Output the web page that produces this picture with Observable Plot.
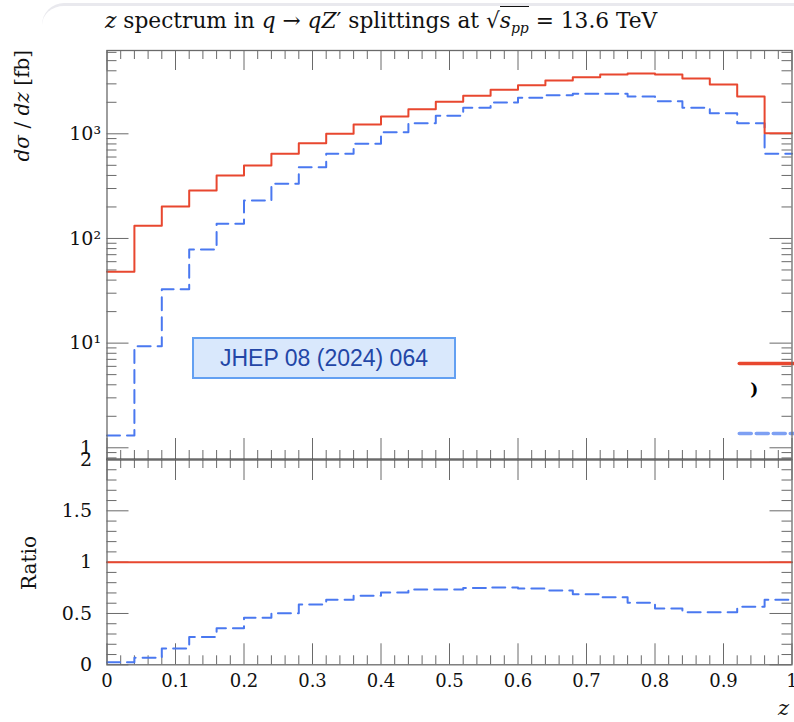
<!DOCTYPE html>
<html><head><meta charset="utf-8">
<script src="https://cdn.jsdelivr.net/npm/d3@7"></script>
<script src="https://cdn.jsdelivr.net/npm/@observablehq/plot@0.6"></script>
<style>
body{margin:0;background:#fff;}
#wrap{position:relative;width:794px;height:722px;overflow:hidden;font-family:"DejaVu Serif",serif;color:#111;}
#card{position:absolute;left:42px;top:3px;width:900px;height:60px;border-top:3px solid #e9e9ee;border-top-left-radius:22px;}
#title{position:absolute;left:105px;top:8px;font-size:21.7px;white-space:nowrap;}
.sq{border-top:1.3px solid #111;padding-top:1px;}
#ylab{position:absolute;left:22px;top:50px;transform-origin:0 0;transform:translate(-12px,0) rotate(-90deg) translate(-100%,0);font-size:20px;white-space:nowrap;}
#rlab{position:absolute;left:2px;top:563px;transform:translate(0,-50%) rotate(-90deg);font-size:20px;}
#zlab{position:absolute;left:778px;top:696px;font-size:21px;font-style:italic;}
#jhep{position:absolute;left:192px;top:337px;width:260px;height:38px;background:#d9e8fc;border:2px solid #63a0f2;box-sizing:content-box;font-family:"Liberation Sans",Arial,sans-serif;font-size:23px;color:#2346a6;text-align:center;line-height:39px;}
svg{position:absolute;left:0;}
</style></head><body><div id="wrap">
<div id="card"></div>
<div id="title"><i>z</i> spectrum in <i>q</i> → <i>qZ</i>′ splittings at √<span class="sq"><i>s<sub style="font-size:14px">pp</sub></i></span> = 13.6 TeV</div>
<div id="ylab"><i>dσ</i> / <i>dz</i> [fb]</div>
<div id="rlab">Ratio</div>
<div id="zlab">z</div>
</div>
<script>
// ---- data ----
const binLow = [0,0.04,0.08,0.12,0.16,0.20,0.24,0.28,0.32,0.36,0.40,0.44,0.48,0.52,0.56,0.60,0.64,0.68,0.72,0.76,0.80,0.84,0.88,0.92,0.96];
const binHigh = 1.0;
const sigmaRed  = [48,132,202,287,400,498,644,813,1000,1227,1462,1718,2023,2307,2630,2911,3228,3473,3683,3765,3683,3374,2958,2270,1013];
const sigmaBlue = [1.31,9.36,32.8,78.5,138,231,333,480,644,802,1036,1263,1486,1771,1991,2209,2340,2411,2411,2270,2047,1771,1574,1263,644];
const ratioRed  = [1,1,1,1,1,1,1,1,1,1,1,1,1,1,1,1,1,1,1,1,1,1,1,1,1];
const ratioBlue = [0.025,0.068,0.16,0.27,0.357,0.458,0.503,0.588,0.633,0.672,0.705,0.734,0.734,0.747,0.753,0.744,0.724,0.688,0.659,0.604,0.549,0.513,0.513,0.565,0.633];
const xTickValues = [0,0.1,0.2,0.3,0.4,0.5,0.6,0.7,0.8,0.9,1];
const xTickLabels = ["0","0.1","0.2","0.3","0.4","0.5","0.6","0.7","0.8","0.9","1"];
const yLogTicks = [1,10,100,1000];
const yLogLabels = ["1","10¹","10²","10³"];
const yRatioTicks = [0,0.5,1,1.5,2];
const yRatioLabels = ["0","0.5","1","1.5","2"];
// cut-off legend samples at the right edge
const legendZ = [0.923, 1.01];
const legendRedY = 6.4, legendBlueY = 1.37;
const legendGlyph = {z: 0.945, v: 3.6, text: ")"};

const RED = "#e8472f", BLUE = "#4a78f0", AX = "#6a6a6a";
const W = 794;
const step = vals => binLow.map((z,i)=>({z, v: vals[i]})).concat([{z: binHigh, v: vals[vals.length-1]}]);
const xMinor = d3.range(0, 1.0001, 0.02).filter(v => Math.abs(v*10 - Math.round(v*10)) > 1e-6);
const logMinor = [];
for (const d of [0.1,1,10,100,1000]) for (let k=2;k<=9;k++){const v=d*k; if (v>0.77 && v<6250) logMinor.push(v);}
const rMinor = d3.range(0, 2.0001, 0.1).filter(v => Math.abs(v*2 - Math.round(v*2)) > 1e-6);

const mainH = 470, mT = 50, mB = 11, frameH = mainH - mT - mB;
const ML = 106.5, MR = W - 791.5, frameW = W - ML - MR;
const serif = "DejaVu Serif";

const main = Plot.plot({
  width: W, height: mainH, marginLeft: ML, marginRight: MR, marginTop: mT, marginBottom: mB,
  x: {domain: [0,1], axis: null},
  y: {type: "log", domain: [0.773, 6250], axis: null},
  style: {background: "transparent", overflow: "visible", fontFamily: serif},
  marks: [
    Plot.tickX(xTickValues, {x: d=>d, stroke: AX, insetBottom: frameH-20}),
    Plot.tickX(xMinor, {x: d=>d, stroke: AX, insetBottom: frameH-9}),
    Plot.tickX(xTickValues, {x: d=>d, stroke: AX, insetTop: frameH-21}),
    Plot.tickX(xMinor, {x: d=>d, stroke: AX, insetTop: frameH-9}),
    Plot.tickY(yLogTicks, {y: d=>d, stroke: AX, insetRight: frameW-22}),
    Plot.tickY(logMinor, {y: d=>d, stroke: AX, insetRight: frameW-10}),
    Plot.tickY(yLogTicks, {y: d=>d, stroke: AX, insetLeft: frameW-22}),
    Plot.tickY(logMinor, {y: d=>d, stroke: AX, insetLeft: frameW-10}),
    Plot.lineY(step(sigmaBlue), {x: "z", y: "v", curve: "step-after", stroke: BLUE, strokeWidth: 2, strokeDasharray: "13,7"}),
    Plot.lineY(step(sigmaRed), {x: "z", y: "v", curve: "step-after", stroke: RED, strokeWidth: 2}),
    Plot.line(legendZ.map(z=>({z, v: legendRedY})), {x: "z", y: "v", stroke: RED, strokeWidth: 3.5, clip: false}),
    Plot.line(legendZ.map(z=>({z, v: legendBlueY})), {x: "z", y: "v", stroke: "#7ea0f3", strokeWidth: 3.5, strokeDasharray: "12,5", clip: false}),
    Plot.text([legendGlyph], {x: "z", y: "v", text: "text", fontSize: 17, fontWeight: "bold", fill: "#000"}),
    Plot.ruleY([0.773], {stroke: "#333", strokeWidth: 1.3}),
    Plot.frame({stroke: AX, strokeWidth: 1.3}),
    Plot.text(yLogTicks.slice(1), {y: d=>d, frameAnchor: "left", dx: -6, textAnchor: "end", text: (d,i)=>yLogLabels[i+1], fontSize: 19, fill: "#111"}),
    Plot.text([1], {y: d=>d, frameAnchor: "left", dx: -15, textAnchor: "end", text: ["1"], fontSize: 19, fill: "#111"})
  ]
});
main.style.top = "0px";
document.getElementById("wrap").appendChild(main);

const rTop = 440, rH = 282, rmT = 459 - rTop, rmB = rTop + rH - 664.3, rFrameH = rH - rmT - rmB;
const ratio = Plot.plot({
  width: W, height: rH, marginLeft: ML, marginRight: MR, marginTop: rmT, marginBottom: rmB,
  x: {domain: [0,1], axis: null},
  y: {domain: [0,2], axis: null},
  style: {background: "transparent", overflow: "visible", fontFamily: serif},
  marks: [
    Plot.tickX(xTickValues, {x: d=>d, stroke: AX, insetBottom: rFrameH-21}),
    Plot.tickX(xMinor, {x: d=>d, stroke: AX, insetBottom: rFrameH-9}),
    Plot.tickX(xTickValues, {x: d=>d, stroke: AX, insetTop: rFrameH-21}),
    Plot.tickX(xMinor, {x: d=>d, stroke: AX, insetTop: rFrameH-9}),
    Plot.tickY(yRatioTicks, {y: d=>d, stroke: AX, insetRight: frameW-22}),
    Plot.tickY(rMinor, {y: d=>d, stroke: AX, insetRight: frameW-10}),
    Plot.tickY(yRatioTicks, {y: d=>d, stroke: AX, insetLeft: frameW-22}),
    Plot.tickY(rMinor, {y: d=>d, stroke: AX, insetLeft: frameW-10}),
    Plot.lineY(step(ratioBlue), {x: "z", y: "v", curve: "step-after", stroke: BLUE, strokeWidth: 2, strokeDasharray: "13,7"}),
    Plot.lineY(step(ratioRed), {x: "z", y: "v", curve: "step-after", stroke: RED, strokeWidth: 2}),
    Plot.ruleY([2], {stroke: "#333", strokeWidth: 1.3}),
    Plot.frame({stroke: AX, strokeWidth: 1.3}),
    Plot.text(yRatioTicks, {y: d=>d, frameAnchor: "left", dx: -15, textAnchor: "end", text: (d,i)=>yRatioLabels[i], fontSize: 19, fill: "#111"}),
    Plot.text(xTickValues, {x: d=>d, frameAnchor: "bottom", dy: 22, text: (d,i)=>xTickLabels[i], fontSize: 18, fill: "#111"})
  ]
});
ratio.style.top = rTop + "px";
document.getElementById("wrap").appendChild(ratio);

const j = document.createElement("div"); j.id = "jhep"; j.textContent = "JHEP 08 (2024) 064";
document.getElementById("wrap").appendChild(j);
</script>
</body></html>
